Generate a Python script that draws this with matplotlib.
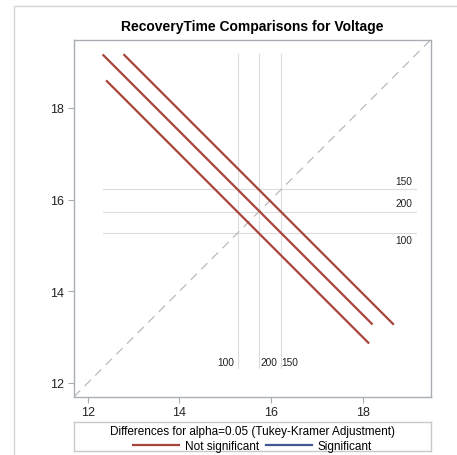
import matplotlib
matplotlib.use('Agg')
import matplotlib.pyplot as plt
from matplotlib.lines import Line2D
from matplotlib.patches import Rectangle

plt.rcParams.update({
    'font.family': 'sans-serif',
    'font.sans-serif': ['Liberation Sans', 'DejaVu Sans'],
    'font.size': 8,
})

RED = '#A8443A'
BLUE = '#445694'
FRAME = '#A9AEB4'
REF = '#DCDCDC'

# LS-means of RecoveryTime by Voltage level
levels = ['100', '200', '150']
means = [15.27, 15.73, 16.22]

# pairwise comparisons: (level on x, level on y, CI half-width of difference)
pair_x = ['100', '100', '200']
pair_y = ['200', '150', '150']
ci_half = [5.74, 5.89, 5.90]
significant = [False, False, False]

mean_of = dict(zip(levels, means))

fig = plt.figure(figsize=(4.57, 4.56), dpi=100)
fig.patches.append(Rectangle((14 / 457, -0.1), 1.2, (456 - 7) / 456 + 0.1,
                             transform=fig.transFigure, fill=False,
                             edgecolor='#D4D4D4', linewidth=1))

ax = fig.add_axes([74 / 457, 58.3 / 456, 356.5 / 457, 356.7 / 456])
lim = (11.70, 19.48)
ax.set_xlim(lim)
ax.set_ylim(lim)

segs = []
for px, py, w, sig in zip(pair_x, pair_y, ci_half, significant):
    cx, cy = mean_of[px], mean_of[py]
    h = w / 2
    xs, ys = [cx - h, cx + h], [cy + h, cy - h]
    segs.append((xs, ys))
    ax.plot(xs, ys, color=BLUE if sig else RED, linewidth=1.6, zorder=3,
            solid_capstyle='butt')

lo = min(min(min(xs), min(ys)) for xs, ys in segs)
hi = max(max(max(xs), max(ys)) for xs, ys in segs)

# reference lines at each mean, with level labels
h_off = {'150': 8, '200': 9, '100': -7}
v_off = {'100': -11.5, '200': 10, '150': 8.5}
lab_x = 18.89
lab_y = 12.46
for lev, m in zip(levels, means):
    ax.plot([m, m], [lo, hi], color=REF, linewidth=0.8, zorder=1)
    ax.plot([lo, hi], [m, m], color=REF, linewidth=0.8, zorder=1)
    ax.annotate(lev, (lab_x, m), xytext=(0, h_off[lev] * 0.72),
                textcoords='offset points', ha='center', va='center',
                fontsize=7.3, color='#222222')
    ax.annotate(lev, (m, lab_y), xytext=(v_off[lev] * 0.72, 0),
                textcoords='offset points', ha='center', va='center',
                fontsize=7.3, color='#222222')

ax.plot([0, 1], [0, 1], transform=ax.transAxes, color='#BBBBBB',
        linewidth=0.9, dashes=(7, 5), zorder=2)

ax.set_xticks([12, 14, 16, 18])
ax.set_yticks([12, 14, 16, 18])
ax.tick_params(length=4, width=0.8, color=FRAME, labelsize=9,
               labelcolor='#222222', pad=3)
for s in ax.spines.values():
    s.set_color(FRAME)
    s.set_linewidth(1)

ax.set_title('RecoveryTime Comparisons for Voltage', fontsize=10,
             fontweight='bold', pad=7)

# legend box under the plot
lax = fig.add_axes([74 / 457, 4.3 / 456, 356.5 / 457, 28.7 / 456])
lax.set_xticks([])
lax.set_yticks([])
for s in lax.spines.values():
    s.set_color('#C8C8C8')
    s.set_linewidth(1)
handles = [Line2D([], [], color=RED, linewidth=1.6),
           Line2D([], [], color=BLUE, linewidth=1.6)]
leg = lax.legend(handles, ['Not significant', 'Significant'], loc='center',
                 bbox_to_anchor=(0.5, 0.5 - 2 / 28.7),
                 ncol=2, frameon=False, fontsize=8.5, handlelength=3.9,
                 handletextpad=0.45, columnspacing=0.6, borderpad=0,
                 title='Differences for alpha=0.05 (Tukey-Kramer Adjustment)',
                 title_fontsize=8.5, labelspacing=0)
leg._legend_box.sep = 2

fig.savefig('out.png', dpi=100)
